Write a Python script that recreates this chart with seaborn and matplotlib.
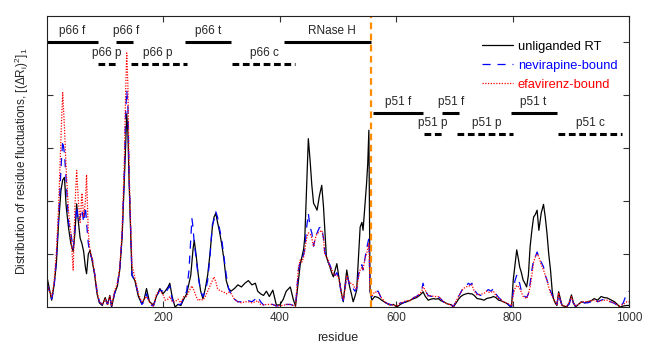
import pandas as pd
import matplotlib.pyplot as plt
import seaborn as sns

# residue positions sampled from the picture, and fluctuation values (arbitrary units)
residue = [0, 4, 8, 12, 16, 20, 24, 27, 30, 33, 37, 41, 45, 48, 51, 54, 57, 60, 63, 66,
           68, 71, 74, 78, 82, 86, 90, 95, 100, 104, 108, 111, 116, 121, 125, 129, 133, 135, 137, 139,
           141, 143, 146, 151, 157, 163, 167, 171, 176, 183, 188, 194, 199, 203, 208, 211, 215, 220, 225, 230,
           235, 240, 244, 247, 249, 251, 253, 256, 260, 264, 268, 272, 276, 280, 284, 287, 290, 293, 296, 300,
           304, 308, 312, 316, 322, 328, 334, 340, 346, 352, 358, 362, 367, 372, 377, 382, 388, 394, 400, 406,
           411, 418, 423, 427, 432, 435, 438, 441, 443, 446, 449, 452, 455, 458, 461, 464, 468, 472, 475, 477,
           480, 483, 486, 489, 492, 495, 498, 501, 503, 506, 509, 512, 515, 518, 520, 523, 526, 529, 532, 535,
           538, 541, 543, 546, 549, 551, 553, 555, 558, 563, 569, 575, 582, 589, 595, 601, 607, 612, 618, 624,
           630, 635, 640, 644, 646, 650, 655, 660, 664, 668, 672, 677, 681, 688, 695, 698, 703, 707, 711, 715,
           720, 724, 727, 730, 734, 739, 745, 751, 755, 758, 763, 767, 771, 776, 780, 784, 790, 796, 798, 801,
           804, 807, 810, 812, 815, 818, 821, 824, 827, 830, 833, 836, 839, 842, 845, 849, 853, 856, 859, 862,
           865, 868, 870, 873, 876, 879, 882, 885, 893, 897, 901, 904, 908, 913, 918, 924, 929, 935, 940, 946,
           952, 957, 963, 968, 975, 980, 984, 990, 996, 1000]

unliganded = [0.57, 0.35, 0.13, 0.4, 0.8, 1.6, 2.2, 2.4, 2.45, 1.9, 1.5, 1.2, 1.05, 1.4, 1.95, 1.6, 1.3, 1.2, 1.05, 0.75,
              0.63, 1.0, 1.07, 0.85, 0.6, 0.25, 0.08, 0.03, 0.18, 0.05, 0.22, 0.0, 0.25, 0.4, 0.7, 1.3, 2.4, 3.0, 3.65, 3.3,
              2.4, 1.7, 0.6, 0.5, 0.2, 0.06, 0.15, 0.35, 0.1, 0.04, 0.2, 0.35, 0.25, 0.3, 0.38, 0.45, 0.2, 0.0, 0.05, 0.03,
              0.15, 0.25, 0.45, 0.6, 0.85, 1.1, 1.26, 1.0, 0.6, 0.3, 0.16, 0.35, 0.6, 1.0, 1.5, 1.7, 1.77, 1.6, 1.45, 1.2,
              0.9, 0.5, 0.35, 0.3, 0.35, 0.42, 0.38, 0.45, 0.5, 0.42, 0.45, 0.3, 0.25, 0.22, 0.3, 0.2, 0.32, 0.04, 0.04, 0.15,
              0.3, 0.38, 0.15, 0.02, 0.51, 0.8, 0.95, 1.1, 1.33, 2.27, 3.18, 2.77, 2.3, 1.96, 1.9, 1.83, 2.1, 2.3, 1.9, 1.51,
              0.95, 0.85, 0.76, 0.65, 0.57, 0.7, 0.82, 0.6, 0.45, 0.25, 0.1, 0.4, 0.7, 0.5, 0.38, 0.25, 0.1, 0.2, 0.32, 0.9,
              1.51, 1.6, 1.45, 1.9, 2.33, 2.7, 3.34, 0.3, 0.13, 0.2, 0.18, 0.13, 0.08, 0.04, 0.05, 0.0, 0.05, 0.08, 0.1, 0.13,
              0.16, 0.18, 0.22, 0.26, 0.29, 0.2, 0.13, 0.15, 0.16, 0.15, 0.16, 0.12, 0.1, 0.06, 0.04, 0.0, 0.08, 0.15, 0.2, 0.23,
              0.25, 0.26, 0.25, 0.25, 0.22, 0.16, 0.15, 0.13, 0.16, 0.17, 0.18, 0.2, 0.18, 0.13, 0.12, 0.1, 0.07, 0.01, 0.0, 0.51,
              0.8, 1.08, 0.9, 0.76, 0.65, 0.51, 0.45, 0.38, 0.6, 1.14, 1.45, 1.7, 1.75, 1.83, 1.45, 1.77, 1.94, 1.7, 1.39, 1.0,
              0.7, 0.3, 0.16, 0.08, 0.03, 0.29, 0.15, 0.03, 0.0, 0.08, 0.23, 0.1, 0.0, 0.05, 0.1, 0.08, 0.1, 0.12, 0.16, 0.13,
              0.2, 0.18, 0.17, 0.14, 0.1, 0.05, 0.0, 0.02, 0.03, 0.03]

nevirapine = [0.45, 0.3, 0.15, 0.35, 0.9, 1.7, 2.6, 3.15, 2.9, 2.4, 1.6, 1.4, 1.1, 1.5, 1.9, 1.6, 1.7, 1.85, 1.6, 1.9,
              1.6, 1.2, 1.0, 0.9, 0.63, 0.3, 0.1, 0.05, 0.15, 0.05, 0.2, 0.02, 0.25, 0.45, 0.7, 1.35, 2.6, 3.6, 4.1, 3.8,
              2.5, 1.8, 0.6, 0.5, 0.25, 0.05, 0.1, 0.25, 0.05, 0.02, 0.2, 0.32, 0.3, 0.25, 0.35, 0.4, 0.15, 0.02, 0.05, 0.05,
              0.18, 0.3, 0.7, 1.3, 1.67, 1.5, 1.2, 0.95, 0.55, 0.3, 0.2, 0.3, 0.5, 0.95, 1.55, 1.65, 1.8, 1.7, 1.5, 1.3,
              0.95, 0.6, 0.35, 0.25, 0.15, 0.1, 0.1, 0.12, 0.12, 0.1, 0.15, 0.2, 0.1, 0.04, 0.06, 0.05, 0.05, 0.02, 0.03, 0.03,
              0.05, 0.05, 0.03, 0.02, 0.7, 0.85, 0.9, 1.0, 1.1, 1.5, 1.77, 1.51, 1.4, 1.15, 1.3, 1.4, 1.5, 1.51, 1.3, 1.05,
              0.95, 0.85, 0.8, 0.7, 0.6, 0.6, 0.65, 0.55, 0.45, 0.2, 0.12, 0.35, 0.6, 0.5, 0.4, 0.4, 0.35, 0.3, 0.35, 0.6,
              0.76, 0.8, 0.7, 0.9, 1.1, 1.2, 1.3, 0.3, 0.2, 0.29, 0.3, 0.15, 0.08, 0.05, 0.04, 0.02, 0.08, 0.08, 0.12, 0.12,
              0.18, 0.2, 0.25, 0.33, 0.45, 0.3, 0.22, 0.2, 0.22, 0.2, 0.2, 0.15, 0.1, 0.06, 0.04, 0.0, 0.12, 0.2, 0.28, 0.36,
              0.4, 0.45, 0.42, 0.45, 0.33, 0.25, 0.22, 0.25, 0.3, 0.33, 0.3, 0.35, 0.25, 0.18, 0.14, 0.12, 0.07, 0.02, 0.0, 0.3,
              0.5, 0.6, 0.5, 0.45, 0.3, 0.25, 0.2, 0.18, 0.25, 0.45, 0.7, 0.89, 0.95, 1.04, 0.95, 0.85, 0.76, 0.6, 0.51, 0.4,
              0.3, 0.22, 0.16, 0.08, 0.05, 0.25, 0.12, 0.02, 0.02, 0.05, 0.2, 0.08, 0.02, 0.05, 0.1, 0.08, 0.08, 0.1, 0.15, 0.1,
              0.13, 0.15, 0.1, 0.1, 0.07, 0.03, 0.0, 0.08, 0.26, 0.3]

efavirenz = [0.45, 0.3, 0.2, 0.45, 1.0, 1.9, 3.2, 4.05, 3.4, 2.6, 1.8, 1.4, 0.7, 1.9, 2.58, 2.0, 1.6, 2.15, 1.7, 2.0,
             2.5, 1.4, 1.05, 0.9, 0.63, 0.3, 0.1, 0.05, 0.15, 0.05, 0.2, 0.02, 0.3, 0.45, 0.75, 1.4, 2.8, 4.0, 4.8, 4.2,
             2.6, 1.8, 0.8, 0.55, 0.25, 0.1, 0.15, 0.2, 0.1, 0.02, 0.25, 0.3, 0.25, 0.13, 0.15, 0.2, 0.1, 0.1, 0.15, 0.08,
             0.2, 0.2, 0.3, 0.36, 0.4, 0.35, 0.3, 0.2, 0.12, 0.15, 0.13, 0.2, 0.3, 0.4, 0.5, 0.57, 0.48, 0.35, 0.32, 0.3,
             0.28, 0.25, 0.28, 0.26, 0.15, 0.1, 0.08, 0.1, 0.1, 0.08, 0.1, 0.12, 0.05, 0.04, 0.05, 0.05, 0.05, 0.02, 0.03, 0.03,
             0.05, 0.05, 0.03, 0.02, 0.75, 0.89, 0.85, 0.95, 1.08, 1.3, 1.4, 1.39, 1.3, 1.14, 1.3, 1.39, 1.42, 1.45, 1.3, 1.01,
             0.95, 0.9, 0.76, 0.72, 0.63, 0.6, 0.6, 0.55, 0.45, 0.25, 0.15, 0.35, 0.6, 0.5, 0.45, 0.45, 0.42, 0.35, 0.35, 0.55,
             0.7, 0.75, 0.7, 0.9, 1.0, 1.1, 1.2, 0.3, 0.2, 0.29, 0.27, 0.17, 0.08, 0.05, 0.04, 0.02, 0.07, 0.1, 0.12, 0.12,
             0.18, 0.2, 0.25, 0.3, 0.38, 0.32, 0.2, 0.22, 0.2, 0.2, 0.2, 0.15, 0.1, 0.06, 0.04, 0.0, 0.12, 0.2, 0.28, 0.35,
             0.38, 0.4, 0.4, 0.42, 0.3, 0.23, 0.24, 0.26, 0.3, 0.28, 0.28, 0.3, 0.22, 0.16, 0.14, 0.1, 0.08, 0.04, 0.02, 0.23,
             0.35, 0.41, 0.38, 0.35, 0.28, 0.2, 0.18, 0.16, 0.25, 0.38, 0.6, 0.85, 0.95, 1.0, 0.95, 0.8, 0.7, 0.6, 0.5, 0.38,
             0.26, 0.2, 0.16, 0.1, 0.05, 0.27, 0.12, 0.02, 0.02, 0.08, 0.2, 0.08, 0.02, 0.05, 0.1, 0.1, 0.1, 0.12, 0.13, 0.1,
             0.12, 0.13, 0.13, 0.1, 0.08, 0.04, 0.02, 0.05, 0.1, 0.1]

# subdomain bars: (label, start, end, label centre)
domains_p66 = [("p66 f", 0, 88, 44), ("p66 f", 119, 148, 136), ("p66 t", 237, 316, 276), ("RNase H", 407, 557, 490)]
domains_p66_dash = [("p66 p", 88, 119, 102), ("p66 p", 144, 240, 191), ("p66 c", 318, 426, 373)]
domains_p51 = [("p51 f", 560, 646, 603), ("p51 f", 679, 707, 695), ("p51 t", 797, 876, 835)]
domains_p51_dash = [("p51 p", 648, 679, 662), ("p51 p", 704, 800, 755), ("p51 c", 878, 988, 933)]

df = pd.DataFrame({"residue": residue, "unliganded RT": unliganded,
                   "nevirapine-bound": nevirapine, "efavirenz-bound": efavirenz})

sns.set_style("ticks")
plt.rcParams["font.family"] = ["Liberation Sans", "DejaVu Sans"]
plt.rcParams["mathtext.default"] = "regular"

fig = plt.figure(figsize=(6.57, 3.6), dpi=100)
ax = fig.add_axes([0.0715, 0.147, 0.886, 0.809])

sns.lineplot(data=df, x="residue", y="unliganded RT", color="black", lw=0.9, ax=ax, label="unliganded RT")
sns.lineplot(data=df, x="residue", y="nevirapine-bound", color="blue", lw=0.9, ax=ax,
             label="nevirapine-bound", linestyle=(0, (6.5, 5.5)))
sns.lineplot(data=df, x="residue", y="efavirenz-bound", color="red", lw=0.9, ax=ax,
             label="efavirenz-bound", linestyle=(0, (1, 1.2)))

ax.axvline(557, color="#ff8c00", lw=1.6, ls=(0, (3, 2)))


def draw_domains(rows, y, dashed):
    ls = (0, (2.2, 1.2)) if dashed else "-"
    for name, a, b, c in rows:
        ax.plot([a, b], [y, y], color="black", lw=2.2, ls=ls, solid_capstyle="butt")
        ax.text(c, y + 0.1, name, ha="center", va="bottom", fontsize=8.5)


draw_domains(domains_p66, 5.0, False)
draw_domains(domains_p66_dash, 4.59, True)
draw_domains(domains_p51, 3.66, False)
draw_domains(domains_p51_dash, 3.26, True)

ax.set_xlim(0, 1000)
ax.set_ylim(0, 5.5)
ax.set_xticks([200, 400, 600, 800, 1000])
ax.set_yticks([1, 2, 3, 4, 5])
ax.set_yticklabels([])
ax.tick_params(direction="in", top=True, right=True, length=4, width=0.8, labelsize=8.5, colors="#333333")
for s in ax.spines.values():
    s.set_linewidth(0.8)
    s.set_color("#222222")

ax.set_xlabel("residue", fontsize=9, labelpad=6)
ax.set_ylabel(r"Distribution of residue fluctuations, [($\Delta$R$_i$)$^2$]$_1$", fontsize=8.5, labelpad=8)

leg = ax.legend(loc="upper right", frameon=False, fontsize=9.3, handlelength=2.4, handletextpad=0.35,
                bbox_to_anchor=(1.0, 0.955), labelspacing=0.55)
for txt, c in zip(leg.get_texts(), ["black", "blue", "red"]):
    txt.set_color(c)

fig.savefig("out.png", dpi=100)
